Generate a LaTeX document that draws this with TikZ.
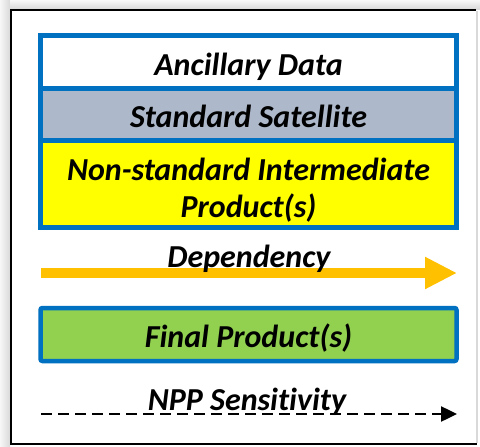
\documentclass[tikz,border=0pt]{standalone}
\usepackage{fontspec}
\setmainfont[Ligatures=NoCommon]{Carlito}
\usetikzlibrary{arrows.meta}
\definecolor{frameblue}{RGB}{0,112,192}
\definecolor{satgray}{RGB}{173,185,202}
\definecolor{nsyellow}{RGB}{255,255,0}
\definecolor{fingreen}{RGB}{146,208,80}
\definecolor{deporange}{RGB}{255,192,0}
\tikzset{
  band/.style={draw=frameblue, line width=4.5pt, inner sep=0pt, outer sep=0pt,
    minimum width=416pt, text height=26pt, text depth=0pt,
    font=\fontsize{32}{40}\selectfont\bfseries\itshape, align=center},
  lbl/.style={inner sep=0pt, anchor=base, font=\fontsize{32}{38}\selectfont\bfseries\itshape},
}
\begin{document}
\begin{tikzpicture}[x=1pt,y=-1pt]
\useasboundingbox (0,0) rectangle (480,447);
% shadow and frame
\shade[left color=gray!6, right color=gray!30] (0,0) rectangle (10,447);
\shade[top color=gray!6, bottom color=gray!30] (10,0) rectangle (480,9);
\fill[white] (12,11) rectangle (476,443);
\draw[gray!30, line width=1.5pt] (477,11) -- (477,443);
\draw[black, line width=2pt] (476,10) -- (11,10) -- (11,444) -- (477,444);
% stacked boxes
\node[band, fill=white, minimum height=53pt] (anc) at (248.5,62) {Ancillary Data};
\node[band, fill=satgray, minimum height=52pt] (sat) at (248.5,114.5) {Standard Satellite};
\node[band, fill=nsyellow, minimum height=87pt] (nsi) at (248.5,184) {};
\node[lbl] (nsi1) at (248.5,180) {Non-standard Intermediate};
\node[lbl] (nsi2) at (248.5,217.5) {Product(s)};
% dependency arrow
\coordinate (depS) at (41,273);
\coordinate (depE) at (457,273);
\draw[deporange, line width=10pt, -{Triangle[length=32pt,width=30pt]}] (depS) -- (depE);
\node[lbl] (dep) at (249,267) {Dependency};
% final product
\node[band, fill=fingreen, minimum height=53pt, rounded corners=2pt] (fin) at (248.5,334.5) {Final Product(s)};
% NPP sensitivity
\coordinate (nppS) at (41,414);
\coordinate (nppE) at (457,414);
\draw[black, line width=2.5pt, dash pattern=on 11pt off 6pt, -{Triangle[length=16pt,width=15pt]}] (nppS) -- (nppE);
\node[lbl] (npp) at (247,410) {NPP Sensitivity};
\end{tikzpicture}
\end{document}
